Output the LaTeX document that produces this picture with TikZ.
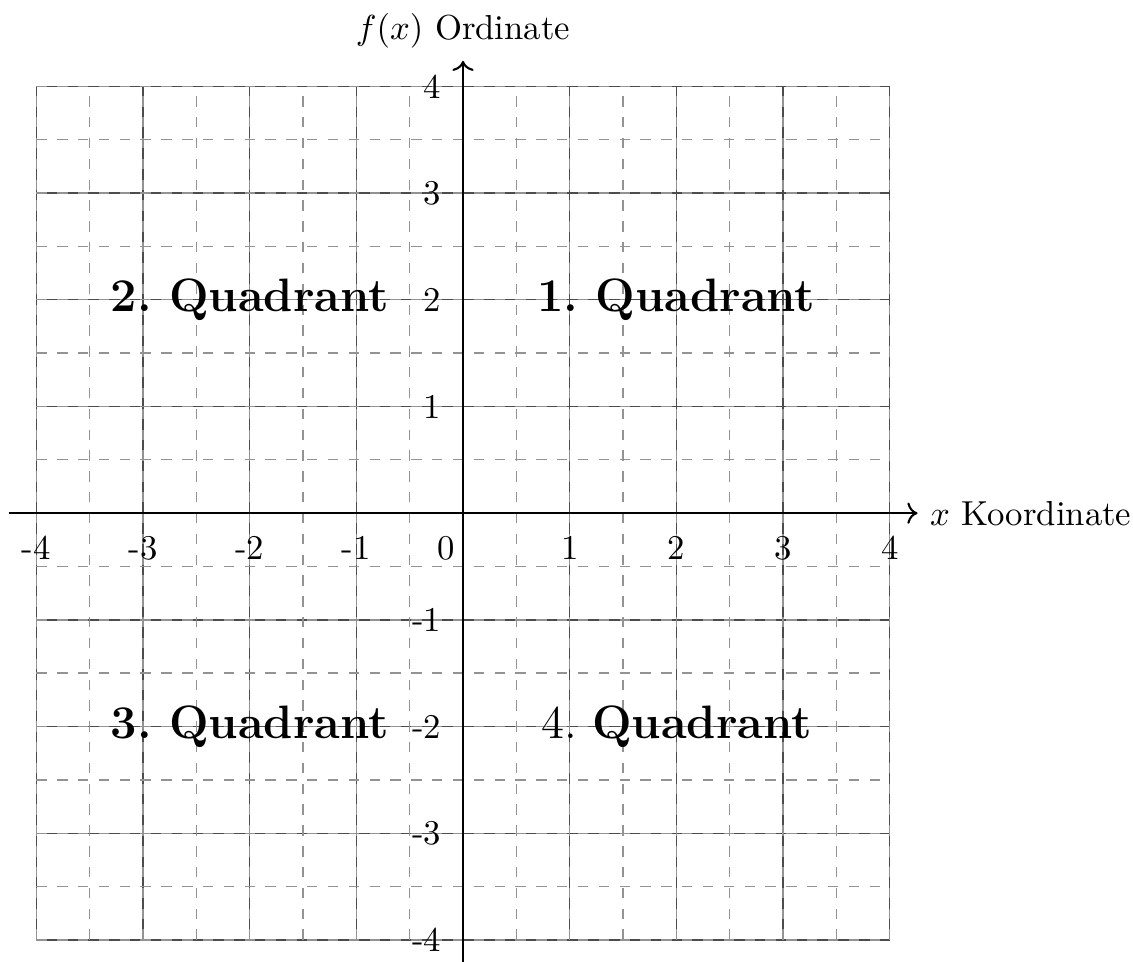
\documentclass[tikz,border=0pt]{standalone}
\usepackage{amsmath,amssymb}
\usepackage{tikz}
\usetikzlibrary{arrows.meta,positioning}

\begin{document}
\begin{tikzpicture}[
    x=1.08cm,y=1.08cm,
    major/.style={draw=black!70,thin},
    minor/.style={draw=gray!85,thin,dashed},
    axis/.style={semithick,->},
    quad/.style={font=\fontsize{13.5}{16}\selectfont}
  ]
  \useasboundingbox (-4.34,-4.2) rectangle (6.28,4.81);
  % Gitter
  \draw[major] (-4,-4) grid[step=1] (4,4);
  \draw[minor] (-4,-4) grid[step=0.5] (4,4);
  % Achsen
  \coordinate (xs) at (-4.26,0);
  \coordinate (xe) at (4.26,0);
  \coordinate (ys) at (0,-4.26);
  \coordinate (ye) at (0,4.24);
  \draw[axis] (xs) -- (xe) node[right] (xlab) {$x$ Koordinate};
  \draw[axis] (ys) -- (ye) node[above] (ylab) {$f(x)$ Ordinate};
  % Beschriftung
  \foreach \x in {-4,-3,-2,-1,1,2,3,4}{
    \node[below] (tx\x) at (\x,-0.1) {\x};
  }
  \foreach \y in {-4,-3,-2,-1,1,2,3,4}{
    \node[left] (ty\y) at (-0.09,\y) {\y};
  }
  \node[below left] (null) at (0.04,-0.1) {0};
  % Quadranten
  \node[quad] (q1) at (2,2)   {\textbf{1.\ Quadrant}};
  \node[quad] (q2) at (-2,2)  {\textbf{2.\ Quadrant}};
  \node[quad] (q3) at (-2,-2) {\textbf{3.\ Quadrant}};
  \node[quad] (q4) at (2,-2)  {4.\ \textbf{Quadrant}};
\end{tikzpicture}
\end{document}
